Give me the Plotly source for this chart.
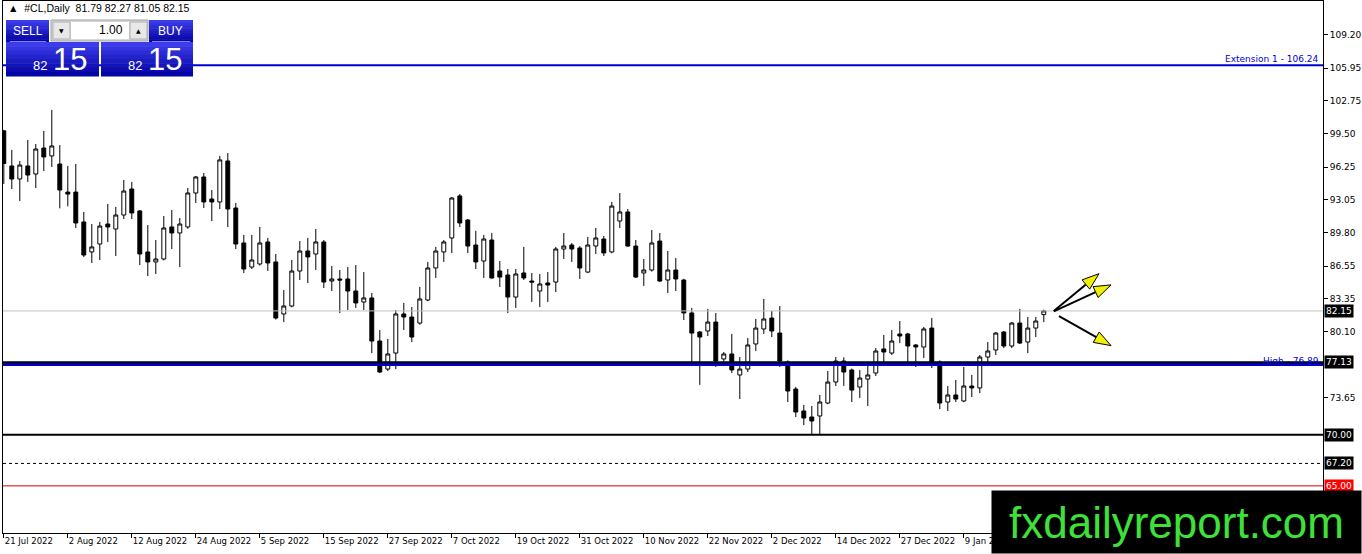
import plotly.graph_objects as go

# -------------------------
# Daten: #CL Daily Kerzen
# -------------------------
opens = [99.8, 96.36, 95.08, 96.36, 95.57, 98.12, 97.34, 96.55, 93.8, 93.8,
         90.87, 87.93, 88.71, 90.67, 90.18, 91.55, 94.1, 91.95, 87.93, 86.95,
         87.24, 90.38, 89.79, 90.38, 93.71, 95.28, 93.12, 92.83, 96.85, 92.24,
         88.81, 86.45, 86.75, 88.91, 86.95, 81.85, 82.63, 86.06, 88.02, 87.73,
         88.91, 85.08, 85.28, 85.28, 84.1, 83.02, 83.42, 79.2, 76.45, 78.02,
         81.85, 81.55, 80.96, 83.22, 86.36, 87.93, 89.3, 93.42, 91.06, 88.61,
         87.04, 89.1, 86.06, 85.67, 83.51, 85.87, 85.08, 84.1, 84.89, 84.98,
         88.22, 88.61, 88.32, 85.96, 88.51, 89.2, 87.93, 90.96, 91.85, 88.51,
         85.87, 86.16, 89.0, 85.18, 86.16, 85.18, 81.95, 80.08, 80.18, 81.06,
         77.44, 77.93, 75.87, 76.45, 78.91, 80.38, 81.45, 79.98, 77.14, 74.49,
         72.34, 71.75, 71.85, 73.12, 75.18, 77.24, 76.36, 74.69, 75.47, 76.06,
         78.42, 78.02, 79.89, 79.89, 78.81, 78.61, 80.47, 77.14, 73.22, 73.91,
         73.32, 74.79, 74.6, 77.63, 78.32, 80.08, 78.71, 80.96, 79.1, 80.47,
         81.79]
highs = [99.9, 97.93, 96.85, 98.9, 98.51, 99.79, 101.85, 98.4, 96.36, 96.55,
         91.85, 90.67, 90.87, 92.63, 92.34, 94.98, 94.79, 92.04, 90.57, 89.1,
         91.45, 92.04, 91.26, 94.2, 95.38, 95.67, 94.0, 97.34, 97.63, 92.73,
         89.6, 89.6, 90.38, 89.3, 87.73, 84.2, 87.14, 89.0, 89.3, 90.18,
         89.1, 86.55, 86.16, 86.45, 86.65, 85.96, 83.9, 80.28, 79.4, 82.24,
         82.93, 82.53, 84.5, 86.95, 88.42, 89.1, 93.3, 93.61, 91.16, 90.0,
         89.6, 89.79, 87.04, 86.26, 86.26, 88.42, 85.87, 85.77, 85.96, 88.42,
         89.79, 88.8, 88.5, 89.4, 90.28, 89.5, 92.83, 93.71, 92.14, 89.1,
         87.24, 90.08, 89.79, 88.02, 87.34, 85.3, 82.44, 80.18, 82.34, 81.94,
         78.12, 79.89, 77.63, 79.5, 81.36, 83.32, 82.14, 82.63, 77.3, 74.7,
         72.93, 72.83, 73.91, 76.26, 77.63, 77.6, 76.5, 76.36, 76.75, 78.51,
         79.79, 80.28, 81.16, 80.0, 78.9, 80.57, 81.45, 77.3, 74.79, 75.38,
         76.65, 75.87, 77.83, 79.1, 80.08, 80.18, 81.06, 82.34, 81.55, 81.55,
         82.27]
lows = [94.6, 94.1, 92.93, 94.8, 94.2, 95.87, 96.26, 92.2, 92.4, 90.28,
        87.44, 86.85, 87.14, 88.91, 87.53, 91.16, 91.16, 86.65, 85.57, 85.77,
        87.1, 88.22, 86.45, 90.2, 92.73, 92.24, 90.96, 92.14, 90.38, 88.22,
        85.87, 86.26, 86.6, 86.06, 81.3, 81.06, 82.5, 85.18, 84.89, 86.16,
        84.4, 84.1, 81.95, 82.24, 82.44, 82.24, 78.02, 76.06, 76.26, 76.45,
        80.28, 79.1, 80.8, 83.1, 85.38, 86.95, 87.83, 90.38, 87.83, 86.26,
        85.38, 85.3, 84.5, 81.95, 82.44, 85.18, 83.02, 82.53, 83.02, 84.0,
        87.24, 86.95, 85.28, 85.87, 87.73, 87.53, 87.8, 90.28, 88.42, 85.38,
        84.6, 86.0, 85.0, 83.91, 84.1, 81.26, 76.8, 74.9, 79.69, 76.65,
        77.2, 76.06, 73.51, 76.16, 78.22, 79.89, 79.59, 76.65, 73.22, 71.75,
        70.96, 70.0, 70.0, 73.0, 74.79, 74.8, 73.22, 73.61, 72.83, 75.77,
        77.14, 77.83, 79.0, 76.85, 76.65, 77.53, 76.55, 72.53, 72.34, 73.22,
        73.2, 73.71, 74.1, 77.14, 77.83, 78.5, 78.5, 78.9, 78.02, 79.59,
        81.05]
closes = [96.6, 95.08, 96.45, 95.47, 98.02, 97.24, 98.32, 94.0, 93.6, 90.77,
          87.63, 88.42, 90.47, 90.38, 91.55, 93.9, 91.75, 87.73, 86.95, 87.24,
          90.28, 89.79, 90.67, 93.71, 95.28, 92.83, 92.83, 96.95, 92.14, 88.71,
          86.26, 87.14, 88.81, 86.85, 81.45, 82.63, 86.06, 88.02, 87.44, 88.91,
          84.98, 85.28, 85.18, 84.1, 82.93, 83.42, 79.2, 76.16, 77.93, 81.85,
          81.55, 79.59, 83.32, 86.36, 88.02, 88.91, 93.22, 90.77, 88.51, 86.95,
          89.2, 85.38, 85.47, 83.51, 85.77, 85.38, 84.98, 84.79, 84.69, 88.22,
          88.51, 88.22, 86.36, 88.61, 89.3, 87.83, 92.43, 91.85, 88.51, 85.47,
          86.16, 88.81, 85.08, 86.16, 85.28, 81.95, 79.98, 79.59, 81.06, 77.24,
          77.93, 76.36, 76.45, 78.81, 80.47, 81.36, 80.18, 77.24, 74.3, 72.24,
          71.65, 71.36, 73.22, 75.18, 77.24, 76.16, 74.39, 75.57, 75.87, 78.22,
          78.12, 79.2, 79.69, 78.71, 78.61, 80.38, 77.04, 73.12, 73.91, 73.51,
          74.79, 74.6, 77.63, 78.22, 79.98, 78.71, 80.96, 79.0, 80.47, 81.16,
          82.15]
bars = list(range(len(closes)))

# Datumsachse (alle 8 Kerzen ein Label)
date_tick_bars = list(range(0, 121, 8))
date_tick_labels = ["21 Jul 2022", "2 Aug 2022", "12 Aug 2022", "24 Aug 2022",
                    "5 Sep 2022", "15 Sep 2022", "27 Sep 2022", "7 Oct 2022",
                    "19 Oct 2022", "31 Oct 2022", "10 Nov 2022", "22 Nov 2022",
                    "2 Dec 2022", "14 Dec 2022", "27 Dec 2022", "9 Jan 2023"]
price_ticks = [109.20, 105.95, 102.75, 99.50, 96.25, 93.05, 89.80, 86.55,
               83.35, 80.10, 73.65]

# Horizontale Linien / Level
ext_level = 106.24
fib_high = 76.89
support = 77.13
bid = 82.15
level_70 = 70.00
level_672 = 67.20
level_65 = 65.00

# Pfeile: (Start-Kerze, Start-Preis, Ziel-Kerze, Ziel-Preis)
arrow_x0 = [131.25, 131.25, 131.9]
arrow_y0 = [82.14, 82.1, 81.65]
arrow_x1 = [136.9, 138.4, 138.4]
arrow_y1 = [85.8, 84.7, 78.75]

# -------------------------
# Geometrie
# -------------------------
W, H = 1362, 554
PL, PR, PT, PB = 3, 1323, 1, 533
X0, X1 = -0.1, 164.9
Y0, Y1 = 60.38, 112.53
FONT = "DejaVu Sans"


def pxx(x):
    return (x - PL) / (PR - PL)


def pxy(y):
    return (PB - y) / (PB - PT)


def to_px(b, p):
    return (PL + (b - X0) * (PR - PL) / (X1 - X0),
            PT + (Y1 - p) * (PB - PT) / (Y1 - Y0))


def to_data(x, y):
    return (X0 + (x - PL) * (X1 - X0) / (PR - PL),
            Y1 - (y - PT) * (Y1 - Y0) / (PB - PT))


fig = go.Figure()
fig.add_trace(go.Candlestick(
    x=bars, open=opens, high=highs, low=lows, close=closes,
    increasing=dict(fillcolor="white", line=dict(color="black", width=1)),
    decreasing=dict(fillcolor="black", line=dict(color="black", width=1)),
    whiskerwidth=0, hoverinfo="skip", showlegend=False,
))

shapes = []
annotations = []


def hline(y, color, width, dash="solid"):
    shapes.append(dict(type="line", xref="paper", yref="y", x0=0, x1=1, y0=y, y1=y,
                       line=dict(color=color, width=width, dash=dash), layer="above"))


hline(bid, "#c0c0c0", 1)
hline(ext_level, "#0000d0", 2)
hline(fib_high, "#0000c8", 3)
hline(support, "black", 2)
hline(level_70, "black", 2)
hline(level_672, "black", 1, "3px,3px")
hline(level_65, "#d00000", 1)

annotations.append(dict(xref="paper", yref="y", x=0.9985, y=ext_level, text="Extension 1 - 106.24",
                        showarrow=False, xanchor="right", yanchor="bottom", yshift=-1,
                        font=dict(family=FONT, size=9, color="#0000d0")))
annotations.append(dict(xref="paper", yref="y", x=0.9985, y=fib_high, text="High - 76.89",
                        showarrow=False, xanchor="right", yanchor="bottom", yshift=-3,
                        font=dict(family=FONT, size=9, color="#0000d0")))

# Preis-Boxen an der rechten Achse
for val, bg in [(bid, "black"), (support, "black"), (level_70, "black"),
                (level_672, "black"), (level_65, "#ff0000")]:
    annotations.append(dict(xref="paper", yref="y", x=1, y=val, text=f"{val:.2f}",
                            showarrow=False, xanchor="left", yanchor="middle", xshift=1,
                            bgcolor=bg, borderpad=1,
                            font=dict(family=FONT, size=9, color="white")))

# Pfeile: schwarze Linie + gelbe Spitze
for bx0, by0, bx1, by1 in zip(arrow_x0, arrow_y0, arrow_x1, arrow_y1):
    sx, sy = to_px(bx0, by0)
    tx, ty = to_px(bx1, by1)
    dx, dy = tx - sx, ty - sy
    d = (dx * dx + dy * dy) ** 0.5
    ux, uy = dx / d, dy / d
    bxp, byp = tx - 17 * ux, ty - 17 * uy
    nx, ny = -uy * 6, ux * 6
    lb = to_data(bxp, byp)
    shapes.append(dict(type="line", xref="x", yref="y", x0=bx0, y0=by0, x1=lb[0], y1=lb[1],
                       line=dict(color="black", width=2), layer="above"))
    pts = [to_data(tx, ty), to_data(bxp + nx, byp + ny), to_data(bxp - nx, byp - ny)]
    path = "M " + " L ".join(f"{a},{b}" for a, b in pts) + " Z"
    shapes.append(dict(type="path", xref="x", yref="y", path=path,
                       fillcolor="#f0f000", line=dict(color="black", width=1), layer="above"))


# -------------------------
# Handelspanel oben links
# -------------------------
def rect(x0, y0, x1, y1, fill, line=None, lw=0):
    shapes.append(dict(type="rect", xref="paper", yref="paper",
                       x0=pxx(x0), x1=pxx(x1), y0=pxy(y1), y1=pxy(y0),
                       fillcolor=fill, line=dict(color=line or fill, width=lw), layer="above"))


def grad_rect(x0, y0, x1, y1, top=(60, 60, 235), bot=(5, 5, 165), n=8):
    h = (y1 - y0) / n
    for i in range(n):
        t = i / (n - 1)
        c = tuple(int(top[k] + (bot[k] - top[k]) * t) for k in range(3))
        rect(x0, y0 + i * h, x1, y0 + (i + 1) * h + 0.5, "rgb(%d,%d,%d)" % c)


def text(x, y, s, size, color="white", xa="center", ya="middle", family=FONT):
    annotations.append(dict(xref="paper", yref="paper", x=pxx(x), y=pxy(y), text=s,
                            showarrow=False, xanchor=xa, yanchor=ya,
                            font=dict(family=family, size=size, color=color)))


grad_rect(6, 20, 49, 42)
grad_rect(149, 20, 193, 42)
grad_rect(6, 42, 99, 76)
grad_rect(101, 42, 193, 76)
shapes.append(dict(type="line", xref="paper", yref="paper", x0=pxx(10), x1=pxx(46),
                   y0=pxy(41.5), y1=pxy(41.5), line=dict(color="#8080ff", width=1), layer="above"))
shapes.append(dict(type="line", xref="paper", yref="paper", x0=pxx(152), x1=pxx(190),
                   y0=pxy(41.5), y1=pxy(41.5), line=dict(color="#8080ff", width=1), layer="above"))
rect(51, 20, 148, 41, "#d8d8d8", "#a0a0a0", 1)
rect(53, 22, 70, 39, "#e8e8e8", "#b0b0b0", 1)
rect(71, 22, 129, 39, "white", "white", 0)
rect(130, 22, 147, 39, "#e8e8e8", "#b0b0b0", 1)
text(61.5, 31, "▼", 6, "black")
text(138.5, 30, "▲", 6, "black")
text(125, 30.5, "1.00", 12, "black", xa="right", family="Liberation Sans")
text(27.5, 31, "SELL", 12, family="Liberation Sans")
text(171, 31, "BUY", 12, family="Liberation Sans")
text(49, 66, "82", 13, xa="right", family="Liberation Sans")
text(70, 59, "15", 31, family="Liberation Sans")
text(144, 66, "82", 13, xa="right", family="Liberation Sans")
text(165, 59, "15", 31, family="Liberation Sans")

text(6, 8, "▲  #CL,Daily  81.79 82.27 81.05 82.15", 10.5, "black", xa="left", family="Liberation Sans")

# Wasserzeichen unten rechts
annotations.append(dict(xref="paper", yref="paper", x=pxx(1362), y=pxy(554),
                        xanchor="right", yanchor="bottom", showarrow=False,
                        text="fxdailyreport.com", bgcolor="black", width=369, height=62,
                        borderpad=0, align="center", valign="middle",
                        font=dict(family="Liberation Sans", size=44, color="#3ee03a")))

fig.update_layout(
    width=W, height=H,
    margin=dict(l=PL, r=W - PR, t=PT, b=H - PB),
    paper_bgcolor="white", plot_bgcolor="white",
    shapes=shapes, annotations=annotations,
    showlegend=False,
    xaxis=dict(range=[X0, X1], rangeslider=dict(visible=False), showgrid=False, zeroline=False,
               tickmode="array", tickvals=date_tick_bars, ticktext=date_tick_labels,
               ticks="outside", ticklen=4, tickcolor="black", ticklabelposition="outside right",
               showline=True, linecolor="black", linewidth=1, mirror=True,
               tickfont=dict(family=FONT, size=8.5, color="black")),
    yaxis=dict(range=[Y0, Y1], side="right", showgrid=False, zeroline=False,
               tickmode="array", tickvals=price_ticks, ticktext=[f"{v:.2f}" for v in price_ticks],
               ticks="outside", ticklen=4, tickcolor="black",
               showline=True, linecolor="black", linewidth=1, mirror=True,
               tickfont=dict(family=FONT, size=9, color="black")),
)

# Seitenrand entfernen, damit die Grafik bei (0,0) beginnt
fig.write_html("out.html", config={"displayModeBar": False},
               post_script="document.body.style.margin='0';document.body.style.overflow='hidden';")
